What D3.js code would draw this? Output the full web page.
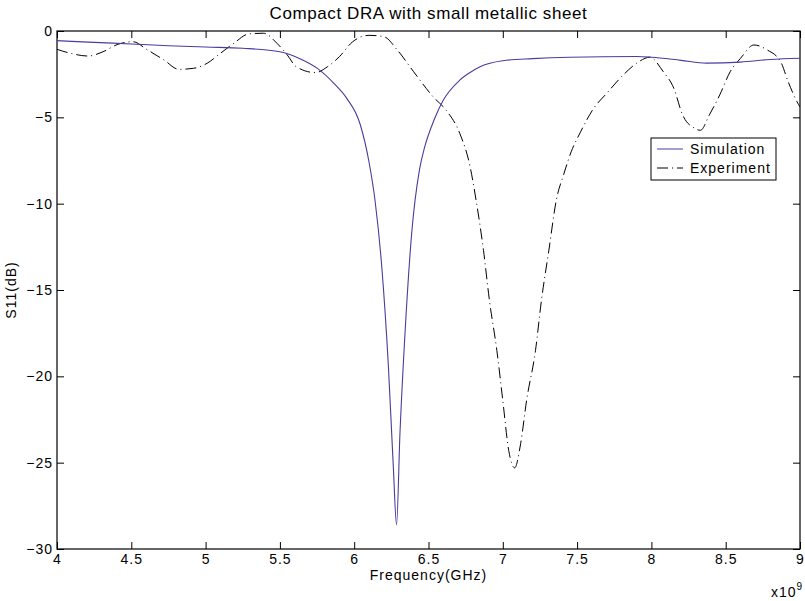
<!DOCTYPE html>
<html>
<head>
<meta charset="utf-8">
<script src="https://cdn.jsdelivr.net/npm/d3@7"></script>
<style>
  body { margin: 0; background: #fff; }
  text { font-family: 'Liberation Sans', Arial, sans-serif; }
</style>
</head>
<body>
<div id="chart"></div>
<script>
// frequency in GHz (axis shows Hz with x10^9 multiplier), S11 in dB
const simFreq = [4.0, 4.25, 4.5, 4.75, 5.0, 5.25, 5.5, 5.635, 5.75, 5.86, 5.95, 6.04, 6.1, 6.14,
  6.185, 6.23, 6.263, 6.285, 6.308, 6.342, 6.387, 6.44, 6.475, 6.54, 6.6, 6.71, 6.78, 6.85,
  7.0, 7.2, 7.45, 7.9, 8.0, 8.2, 8.37, 8.6, 8.8, 9.0];
const simS11 = [-0.56, -0.66, -0.75, -0.85, -0.93, -1.0, -1.2, -1.6, -2.15, -3.0, -3.9, -5.4, -7.6, -9.8,
  -13.6, -19.4, -25.2, -28.6, -23.3, -17.5, -11.7, -8.0, -6.7, -5.1, -4.0, -2.85, -2.4, -2.05,
  -1.72, -1.6, -1.52, -1.48, -1.52, -1.7, -1.86, -1.8, -1.65, -1.58];

const expFreq = [4.0, 4.09, 4.21, 4.31, 4.41, 4.51, 4.61, 4.72, 4.82, 4.92, 5.01, 5.1, 5.19, 5.29,
  5.39, 5.48, 5.55, 5.61, 5.74, 5.82, 5.9, 5.99, 6.1, 6.2, 6.29, 6.4, 6.53, 6.62, 6.71, 6.78,
  6.82, 6.87, 6.91, 6.96, 7.0, 7.04, 7.08, 7.12, 7.16, 7.22, 7.26, 7.31, 7.36, 7.41, 7.46, 7.52,
  7.61, 7.7, 7.81, 7.9, 7.99, 8.08, 8.15, 8.21, 8.29, 8.33, 8.39, 8.46, 8.53, 8.6, 8.69,
  8.78, 8.87, 8.92, 8.98, 9.0];
const expS11 = [-1.06, -1.29, -1.45, -1.2, -0.77, -0.62, -1.1, -1.68, -2.22, -2.16, -1.87, -1.29, -0.71, -0.17,
  -0.13, -0.71, -1.39, -2.07, -2.41, -2.07, -1.49, -0.62, -0.25, -0.33, -1.1, -2.36, -3.8, -4.6, -5.92, -7.86,
  -9.79, -12.7, -15.6, -18.5, -21.4, -24.3, -25.3, -23.9, -21.4, -18.5, -15.6, -12.7, -9.8, -8.3, -7.0, -5.9,
  -4.5, -3.6, -2.55, -1.87, -1.52, -2.36, -3.3, -4.86, -5.63, -5.75, -4.86, -3.7, -2.36, -1.58, -0.81,
  -1.1, -1.78, -2.93, -4.1, -4.4];

const xTicks = [4, 4.5, 5, 5.5, 6, 6.5, 7, 7.5, 8, 8.5, 9];
const yTicks = [0, -5, -10, -15, -20, -25, -30];

const width = 805, height = 601;
const margin = { top: 31, right: 5, bottom: 52, left: 57 };
const innerW = width - margin.left - margin.right;
const innerH = height - margin.top - margin.bottom;
const expDash = '11,4,1,4';
const simColor = '#4a3c9c';

const svg = d3.select('#chart').append('svg')
  .attr('width', width)
  .attr('height', height);

const g = svg.append('g')
  .attr('transform', `translate(${margin.left}, ${margin.top})`);

const x = d3.scaleLinear().domain([4, 9]).range([0, innerW]);
const y = d3.scaleLinear().domain([-30, 0]).range([innerH, 0]);

// axes, ticks pointing inward, mirrored on top/right
const tickLen = 7;
const styleText = (sel) => sel
  .attr('font-size', 14)
  .attr('letter-spacing', 1)
  .attr('fill', '#000');

g.append('g')
  .attr('transform', `translate(0, ${innerH})`)
  .call(d3.axisBottom(x).tickValues(xTicks).tickSizeInner(-tickLen).tickSizeOuter(0).tickPadding(5)
    .tickFormat(d3.format('')))
  .call((a) => a.select('.domain').remove())
  .selectAll('text').call(styleText);

g.append('g')
  .call(d3.axisTop(x).tickValues(xTicks).tickSizeInner(-tickLen).tickSizeOuter(0).tickFormat(''))
  .call((a) => a.select('.domain').remove());

g.append('g')
  .call(d3.axisLeft(y).tickValues(yTicks).tickSizeInner(-tickLen).tickSizeOuter(0).tickPadding(4))
  .call((a) => a.select('.domain').remove())
  .selectAll('text').call(styleText);

g.append('g')
  .attr('transform', `translate(${innerW}, 0)`)
  .call(d3.axisRight(y).tickValues(yTicks).tickSizeInner(-tickLen).tickSizeOuter(0).tickFormat(''))
  .call((a) => a.select('.domain').remove());

g.selectAll('.tick line').attr('stroke', '#000');

g.append('rect')
  .attr('width', innerW)
  .attr('height', innerH)
  .attr('fill', 'none')
  .attr('stroke', '#000')
  .attr('stroke-width', 1.2);

svg.append('clipPath').attr('id', 'plotclip')
  .append('rect').attr('width', innerW).attr('height', innerH);

const line = d3.line()
  .x((d) => x(d[0]))
  .y((d) => y(d[1]))
  .curve(d3.curveMonotoneX);

const plot = g.append('g').attr('clip-path', 'url(#plotclip)');

plot.append('path')
  .datum(d3.zip(expFreq, expS11))
  .attr('fill', 'none')
  .attr('stroke', '#000')
  .attr('stroke-width', 1)
  .attr('stroke-dasharray', expDash)
  .attr('d', line);

plot.append('path')
  .datum(d3.zip(simFreq, simS11))
  .attr('fill', 'none')
  .attr('stroke', simColor)
  .attr('stroke-width', 1.1)
  .attr('d', line);

// legend
const legend = g.append('g')
  .attr('transform', `translate(${651 - margin.left}, ${138 - margin.top})`);
legend.append('rect')
  .attr('width', 125).attr('height', 42)
  .attr('fill', '#fff').attr('stroke', '#000').attr('stroke-width', 1);
const items = [
  { name: 'Simulation', color: simColor, dash: null },
  { name: 'Experiment', color: '#000', dash: expDash }
];
items.forEach((it, i) => {
  const yy = 11 + i * 19;
  legend.append('line')
    .attr('x1', 6).attr('x2', 32).attr('y1', yy).attr('y2', yy)
    .attr('stroke', it.color).attr('stroke-width', 1)
    .attr('stroke-dasharray', it.dash);
  legend.append('text')
    .attr('x', 39).attr('y', yy + 5)
    .call(styleText)
    .text(it.name);
});

// titles
svg.append('text')
  .attr('x', margin.left + innerW / 2)
  .attr('y', 19)
  .attr('text-anchor', 'middle')
  .attr('font-size', 17)
  .attr('letter-spacing', 0.6)
  .text('Compact DRA with small metallic sheet');

svg.append('text')
  .attr('x', margin.left + innerW / 2)
  .attr('y', 580)
  .attr('text-anchor', 'middle')
  .call(styleText)
  .text('Frequency(GHz)');

svg.append('text')
  .attr('transform', `translate(16, ${margin.top + innerH / 2}) rotate(-90)`)
  .attr('text-anchor', 'middle')
  .call(styleText)
  .text('S11(dB)');

const mult = svg.append('text')
  .attr('x', 771)
  .attr('y', 597)
  .call(styleText);
mult.append('tspan').text('x10');
mult.append('tspan').attr('dy', -7).attr('font-size', 10).text('9');
</script>
</body>
</html>
